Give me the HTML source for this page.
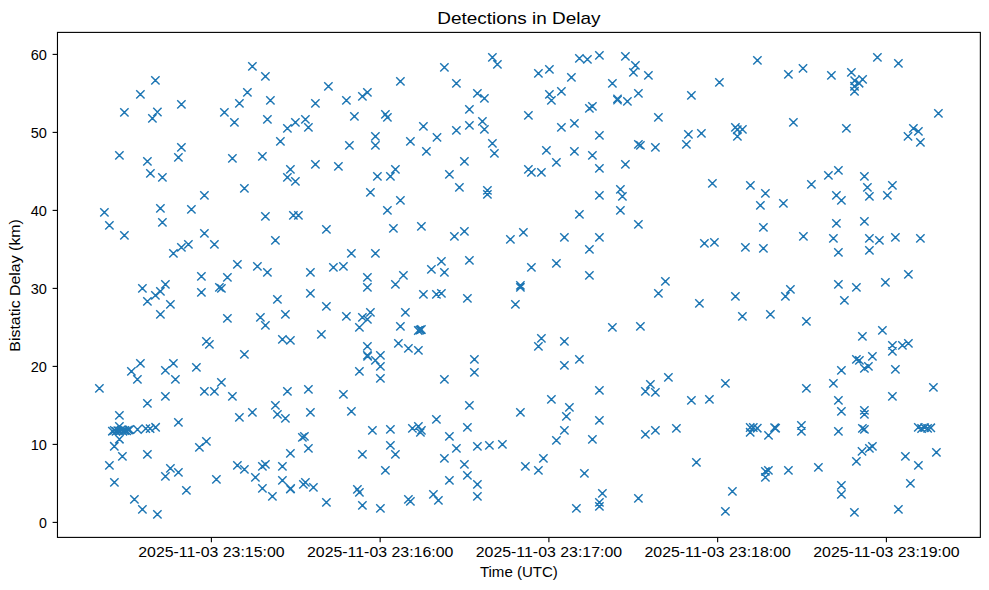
<!DOCTYPE html>
<html><head><meta charset="utf-8"><style>
html,body{margin:0;padding:0;background:#fff;width:989px;height:590px;overflow:hidden}
svg{display:block}
text{font-family:"Liberation Sans",sans-serif;font-size:14.1px;fill:#000}
</style></head><body>
<svg width="989" height="590" viewBox="0 0 989 590">
<rect width="989" height="590" fill="#fff"/>
<g clip-path="url(#c)"><path d="M151.23 76.23L159.57 84.57M151.23 84.57L159.57 76.23M136.23 90.23L144.57 98.57M136.23 98.57L144.57 90.23M120.23 108.23L128.57 116.57M120.23 116.57L128.57 108.23M153.23 107.83L161.57 116.17M153.23 116.17L161.57 107.83M148.23 114.23L156.57 122.57M148.23 122.57L156.57 114.23M177.23 100.23L185.57 108.57M177.23 108.57L185.57 100.23M220.23 108.23L228.57 116.57M220.23 116.57L228.57 108.23M230.23 118.23L238.57 126.57M230.23 126.57L238.57 118.23M235.23 99.23L243.57 107.57M235.23 107.57L243.57 99.23M243.23 88.23L251.57 96.57M243.23 96.57L251.57 88.23M248.23 62.23L256.57 70.57M248.23 70.57L256.57 62.23M261.23 72.23L269.57 80.57M261.23 80.57L269.57 72.23M266.23 96.23L274.57 104.57M266.23 104.57L274.57 96.23M263.23 115.23L271.57 123.57M263.23 123.57L271.57 115.23M276.23 137.23L284.57 145.57M276.23 145.57L284.57 137.23M283.23 124.23L291.57 132.57M283.23 132.57L291.57 124.23M291.23 118.23L299.57 126.57M291.23 126.57L299.57 118.23M301.23 115.23L309.57 123.57M301.23 123.57L309.57 115.23M304.23 123.23L312.57 131.57M304.23 131.57L312.57 123.23M311.23 99.23L319.57 107.57M311.23 107.57L319.57 99.23M324.23 82.23L332.57 90.57M324.23 90.57L332.57 82.23M342.23 96.23L350.57 104.57M342.23 104.57L350.57 96.23M350.23 112.23L358.57 120.57M350.23 120.57L358.57 112.23M345.23 141.23L353.57 149.57M345.23 149.57L353.57 141.23M358.23 92.23L366.57 100.57M358.23 100.57L366.57 92.23M363.23 88.23L371.57 96.57M363.23 96.57L371.57 88.23M371.23 132.23L379.57 140.57M371.23 140.57L379.57 132.23M371.23 141.23L379.57 149.57M371.23 149.57L379.57 141.23M381.23 110.23L389.57 118.57M381.23 118.57L389.57 110.23M383.23 113.23L391.57 121.57M383.23 121.57L391.57 113.23M396.23 77.23L404.57 85.57M396.23 85.57L404.57 77.23M406.23 137.23L414.57 145.57M406.23 145.57L414.57 137.23M419.23 122.23L427.57 130.57M419.23 130.57L427.57 122.23M432.83 133.23L441.17 141.57M432.83 141.57L441.17 133.23M440.23 63.23L448.57 71.57M440.23 71.57L448.57 63.23M452.23 79.23L460.57 87.57M452.23 87.57L460.57 79.23M488.23 53.23L496.57 61.57M488.23 61.57L496.57 53.23M493.23 60.23L501.57 68.57M493.23 68.57L501.57 60.23M473.23 89.23L481.57 97.57M473.23 97.57L481.57 89.23M480.23 94.23L488.57 102.57M480.23 102.57L488.57 94.23M465.23 105.23L473.57 113.57M465.23 113.57L473.57 105.23M478.23 117.23L486.57 125.57M478.23 125.57L486.57 117.23M465.23 121.23L473.57 129.57M465.23 129.57L473.57 121.23M480.23 125.23L488.57 133.57M480.23 133.57L488.57 125.23M452.23 126.23L460.57 134.57M452.23 134.57L460.57 126.23M488.23 139.23L496.57 147.57M488.23 147.57L496.57 139.23M524.23 111.23L532.57 119.57M524.23 119.57L532.57 111.23M534.23 69.23L542.57 77.57M534.23 77.57L542.57 69.23M545.23 65.23L553.57 73.57M545.23 73.57L553.57 65.23M545.23 90.23L553.57 98.57M545.23 98.57L553.57 90.23M547.23 96.23L555.57 104.57M547.23 104.57L555.57 96.23M557.23 87.23L565.57 95.57M557.23 95.57L565.57 87.23M567.23 73.23L575.57 81.57M567.23 81.57L575.57 73.23M575.23 54.23L583.57 62.57M575.23 62.57L583.57 54.23M583.23 55.23L591.57 63.57M583.23 63.57L591.57 55.23M595.23 51.23L603.57 59.57M595.23 59.57L603.57 51.23M608.23 79.23L616.57 87.57M608.23 87.57L616.57 79.23M613.33 94.73L621.67 103.07M613.33 103.07L621.67 94.73M613.33 95.83L621.67 104.17M613.33 104.17L621.67 95.83M585.23 104.23L593.57 112.57M585.23 112.57L593.57 104.23M588.23 102.23L596.57 110.57M588.23 110.57L596.57 102.23M570.23 119.23L578.57 127.57M570.23 127.57L578.57 119.23M557.23 123.23L565.57 131.57M557.23 131.57L565.57 123.23M595.23 131.23L603.57 139.57M595.23 139.57L603.57 131.23M621.23 52.23L629.57 60.57M621.23 60.57L629.57 52.23M631.23 61.23L639.57 69.57M631.23 69.57L639.57 61.23M629.23 68.23L637.57 76.57M629.23 76.57L637.57 68.23M644.23 71.23L652.57 79.57M644.23 79.57L652.57 71.23M623.23 97.23L631.57 105.57M623.23 105.57L631.57 97.23M634.23 89.23L642.57 97.57M634.23 97.57L642.57 89.23M654.23 113.23L662.57 121.57M654.23 121.57L662.57 113.23M687.23 91.23L695.57 99.57M687.23 99.57L695.57 91.23M715.23 78.23L723.57 86.57M715.23 86.57L723.57 78.23M753.23 56.23L761.57 64.57M753.23 64.57L761.57 56.23M784.23 70.23L792.57 78.57M784.23 78.57L792.57 70.23M798.83 64.23L807.17 72.57M798.83 72.57L807.17 64.23M789.23 118.23L797.57 126.57M789.23 126.57L797.57 118.23M731.23 123.23L739.57 131.57M731.23 131.57L739.57 123.23M738.23 125.23L746.57 133.57M738.23 133.57L746.57 125.23M733.23 132.23L741.57 140.57M733.23 140.57L741.57 132.23M733.13 125.53L741.47 133.87M733.13 133.87L741.47 125.53M697.23 129.23L705.57 137.57M697.23 137.57L705.57 129.23M684.23 130.23L692.57 138.57M684.23 138.57L692.57 130.23M827.23 71.23L835.57 79.57M827.23 79.57L835.57 71.23M847.23 68.23L855.57 76.57M847.23 76.57L855.57 68.23M873.23 53.23L881.57 61.57M873.23 61.57L881.57 53.23M894.23 59.23L902.57 67.57M894.23 67.57L902.57 59.23M858.43 75.23L866.77 83.57M858.43 83.57L866.77 75.23M850.53 76.53L858.87 84.87M850.53 84.87L858.87 76.53M854.93 79.03L863.27 87.37M854.93 87.37L863.27 79.03M850.33 82.13L858.67 90.47M850.33 90.47L858.67 82.13M850.33 87.13L858.67 95.47M850.33 95.47L858.67 87.13M842.23 124.23L850.57 132.57M842.23 132.57L850.57 124.23M934.23 109.23L942.57 117.57M934.23 117.57L942.57 109.23M909.23 124.23L917.57 132.57M909.23 132.57L917.57 124.23M914.23 127.23L922.57 135.57M914.23 135.57L922.57 127.23M903.83 132.23L912.17 140.57M903.83 140.57L912.17 132.23M916.23 138.23L924.57 146.57M916.23 146.57L924.57 138.23M177.23 143.23L185.57 151.57M177.23 151.57L185.57 143.23M115.23 151.23L123.57 159.57M115.23 159.57L123.57 151.23M143.23 157.23L151.57 165.57M143.23 165.57L151.57 157.23M174.23 153.23L182.57 161.57M174.23 161.57L182.57 153.23M146.23 169.23L154.57 177.57M146.23 177.57L154.57 169.23M158.23 173.23L166.57 181.57M158.23 181.57L166.57 173.23M228.23 154.23L236.57 162.57M228.23 162.57L236.57 154.23M240.23 184.23L248.57 192.57M240.23 192.57L248.57 184.23M200.23 191.23L208.57 199.57M200.23 199.57L208.57 191.23M100.23 208.23L108.57 216.57M100.23 216.57L108.57 208.23M105.23 221.23L113.57 229.57M105.23 229.57L113.57 221.23M120.23 231.23L128.57 239.57M120.23 239.57L128.57 231.23M156.23 204.23L164.57 212.57M156.23 212.57L164.57 204.23M158.23 218.23L166.57 226.57M158.23 226.57L166.57 218.23M187.23 205.23L195.57 213.57M187.23 213.57L195.57 205.23M200.23 229.23L208.57 237.57M200.23 237.57L208.57 229.23M210.23 240.23L218.57 248.57M210.23 248.57L218.57 240.23M184.23 240.23L192.57 248.57M184.23 248.57L192.57 240.23M177.23 243.23L185.57 251.57M177.23 251.57L185.57 243.23M258.23 152.23L266.57 160.57M258.23 160.57L266.57 152.23M286.23 165.23L294.57 173.57M286.23 173.57L294.57 165.23M283.23 173.23L291.57 181.57M283.23 181.57L291.57 173.23M291.23 177.23L299.57 185.57M291.23 185.57L299.57 177.23M311.23 160.23L319.57 168.57M311.23 168.57L319.57 160.23M334.23 162.23L342.57 170.57M334.23 170.57L342.57 162.23M373.23 172.23L381.57 180.57M373.23 180.57L381.57 172.23M386.23 172.23L394.57 180.57M386.23 180.57L394.57 172.23M391.23 165.23L399.57 173.57M391.23 173.57L399.57 165.23M366.23 188.23L374.57 196.57M366.23 196.57L374.57 188.23M396.23 196.23L404.57 204.57M396.23 204.57L404.57 196.23M383.23 206.23L391.57 214.57M383.23 214.57L391.57 206.23M261.23 212.23L269.57 220.57M261.23 220.57L269.57 212.23M289.23 211.23L297.57 219.57M289.23 219.57L297.57 211.23M294.23 211.23L302.57 219.57M294.23 219.57L302.57 211.23M322.23 225.23L330.57 233.57M322.23 233.57L330.57 225.23M271.23 236.23L279.57 244.57M271.23 244.57L279.57 236.23M389.23 224.23L397.57 232.57M389.23 232.57L397.57 224.23M417.23 222.23L425.57 230.57M417.23 230.57L425.57 222.23M422.23 147.23L430.57 155.57M422.23 155.57L430.57 147.23M490.23 149.23L498.57 157.57M490.23 157.57L498.57 149.23M460.23 157.23L468.57 165.57M460.23 165.57L468.57 157.23M445.23 170.23L453.57 178.57M445.23 178.57L453.57 170.23M455.23 183.23L463.57 191.57M455.23 191.57L463.57 183.23M483.23 186.23L491.57 194.57M483.23 194.57L491.57 186.23M483.23 190.23L491.57 198.57M483.23 198.57L491.57 190.23M542.23 146.23L550.57 154.57M542.23 154.57L550.57 146.23M570.23 147.23L578.57 155.57M570.23 155.57L578.57 147.23M588.23 151.23L596.57 159.57M588.23 159.57L596.57 151.23M552.23 158.23L560.57 166.57M552.23 166.57L560.57 158.23M524.23 165.23L532.57 173.57M524.23 173.57L532.57 165.23M527.23 168.23L535.57 176.57M527.23 176.57L535.57 168.23M537.23 168.23L545.57 176.57M537.23 176.57L545.57 168.23M595.23 164.23L603.57 172.57M595.23 172.57L603.57 164.23M595.23 191.23L603.57 199.57M595.23 199.57L603.57 191.23M575.23 210.23L583.57 218.57M575.23 218.57L583.57 210.23M450.23 232.23L458.57 240.57M450.23 240.57L458.57 232.23M460.23 227.23L468.57 235.57M460.23 235.57L468.57 227.23M506.23 235.23L514.57 243.57M506.23 243.57L514.57 235.23M519.23 228.23L527.57 236.57M519.23 236.57L527.57 228.23M560.23 233.23L568.57 241.57M560.23 241.57L568.57 233.23M595.23 233.23L603.57 241.57M595.23 241.57L603.57 233.23M634.23 140.23L642.57 148.57M634.23 148.57L642.57 140.23M636.23 141.23L644.57 149.57M636.23 149.57L644.57 141.23M651.23 143.23L659.57 151.57M651.23 151.57L659.57 143.23M682.23 140.23L690.57 148.57M682.23 148.57L690.57 140.23M621.23 160.23L629.57 168.57M621.23 168.57L629.57 160.23M616.23 185.23L624.57 193.57M616.23 193.57L624.57 185.23M618.23 192.23L626.57 200.57M618.23 200.57L626.57 192.23M616.23 206.23L624.57 214.57M616.23 214.57L624.57 206.23M634.23 220.23L642.57 228.57M634.23 228.57L642.57 220.23M708.23 179.23L716.57 187.57M708.23 187.57L716.57 179.23M746.23 181.23L754.57 189.57M746.23 189.57L754.57 181.23M761.23 189.23L769.57 197.57M761.23 197.57L769.57 189.23M756.23 201.23L764.57 209.57M756.23 209.57L764.57 201.23M779.23 199.23L787.57 207.57M779.23 207.57L787.57 199.23M759.23 223.23L767.57 231.57M759.23 231.57L767.57 223.23M799.23 232.23L807.57 240.57M799.23 240.57L807.57 232.23M700.23 239.23L708.57 247.57M700.23 247.57L708.57 239.23M710.23 238.23L718.57 246.57M710.23 246.57L718.57 238.23M741.23 243.23L749.57 251.57M741.23 251.57L749.57 243.23M759.23 244.23L767.57 252.57M759.23 252.57L767.57 244.23M834.23 166.23L842.57 174.57M834.23 174.57L842.57 166.23M824.23 171.23L832.57 179.57M824.23 179.57L832.57 171.23M807.23 180.23L815.57 188.57M807.23 188.57L815.57 180.23M860.23 172.23L868.57 180.57M860.23 180.57L868.57 172.23M863.23 183.23L871.57 191.57M863.23 191.57L871.57 183.23M865.23 192.23L873.57 200.57M865.23 200.57L873.57 192.23M888.23 181.23L896.57 189.57M888.23 189.57L896.57 181.23M883.23 191.23L891.57 199.57M883.23 199.57L891.57 191.23M832.23 191.23L840.57 199.57M832.23 199.57L840.57 191.23M837.23 196.23L845.57 204.57M837.23 204.57L845.57 196.23M832.23 219.23L840.57 227.57M832.23 227.57L840.57 219.23M860.23 217.23L868.57 225.57M860.23 225.57L868.57 217.23M829.23 234.23L837.57 242.57M829.23 242.57L837.57 234.23M865.23 234.23L873.57 242.57M865.23 242.57L873.57 234.23M875.23 236.23L883.57 244.57M875.23 244.57L883.57 236.23M891.23 233.23L899.57 241.57M891.23 241.57L899.57 233.23M916.23 234.23L924.57 242.57M916.23 242.57L924.57 234.23M169.23 249.23L177.57 257.57M169.23 257.57L177.57 249.23M233.23 260.23L241.57 268.57M233.23 268.57L241.57 260.23M197.23 272.23L205.57 280.57M197.23 280.57L205.57 272.23M223.23 273.23L231.57 281.57M223.23 281.57L231.57 273.23M215.23 283.23L223.57 291.57M215.23 291.57L223.57 283.23M217.23 284.23L225.57 292.57M217.23 292.57L225.57 284.23M197.23 288.23L205.57 296.57M197.23 296.57L205.57 288.23M138.23 284.23L146.57 292.57M138.23 292.57L146.57 284.23M161.23 280.23L169.57 288.57M161.23 288.57L169.57 280.23M156.23 287.23L164.57 295.57M156.23 295.57L164.57 287.23M151.23 291.23L159.57 299.57M151.23 299.57L159.57 291.23M143.23 297.23L151.57 305.57M143.23 305.57L151.57 297.23M166.23 300.23L174.57 308.57M166.23 308.57L174.57 300.23M156.23 310.23L164.57 318.57M156.23 318.57L164.57 310.23M223.23 314.23L231.57 322.57M223.23 322.57L231.57 314.23M202.23 337.23L210.57 345.57M202.23 345.57L210.57 337.23M205.23 340.23L213.57 348.57M205.23 348.57L213.57 340.23M347.23 249.23L355.57 257.57M347.23 257.57L355.57 249.23M371.23 249.23L379.57 257.57M371.23 257.57L379.57 249.23M253.23 262.23L261.57 270.57M253.23 270.57L261.57 262.23M263.23 268.23L271.57 276.57M263.23 276.57L271.57 268.23M306.23 268.23L314.57 276.57M306.23 276.57L314.57 268.23M329.23 263.23L337.57 271.57M329.23 271.57L337.57 263.23M339.23 262.23L347.57 270.57M339.23 270.57L347.57 262.23M363.23 273.23L371.57 281.57M363.23 281.57L371.57 273.23M363.23 283.23L371.57 291.57M363.23 291.57L371.57 283.23M391.23 280.23L399.57 288.57M391.23 288.57L399.57 280.23M399.23 271.23L407.57 279.57M399.23 279.57L407.57 271.23M427.23 265.23L435.57 273.57M427.23 273.57L435.57 265.23M419.23 290.23L427.57 298.57M419.23 298.57L427.57 290.23M306.23 289.23L314.57 297.57M306.23 297.57L314.57 289.23M273.23 295.23L281.57 303.57M273.23 303.57L281.57 295.23M322.23 302.23L330.57 310.57M322.23 310.57L330.57 302.23M281.23 310.23L289.57 318.57M281.23 318.57L289.57 310.23M256.23 313.23L264.57 321.57M256.23 321.57L264.57 313.23M261.23 321.23L269.57 329.57M261.23 329.57L269.57 321.23M342.23 312.23L350.57 320.57M342.23 320.57L350.57 312.23M358.23 313.23L366.57 321.57M358.23 321.57L366.57 313.23M366.23 308.23L374.57 316.57M366.23 316.57L374.57 308.23M363.23 315.23L371.57 323.57M363.23 323.57L371.57 315.23M355.23 323.23L363.57 331.57M355.23 331.57L363.57 323.23M401.23 308.23L409.57 316.57M401.23 316.57L409.57 308.23M396.23 322.23L404.57 330.57M396.23 330.57L404.57 322.23M414.13 326.33L422.47 334.67M414.13 334.67L422.47 326.33M415.83 325.83L424.17 334.17M415.83 334.17L424.17 325.83M417.23 325.33L425.57 333.67M417.23 333.67L425.57 325.33M317.23 330.23L325.57 338.57M317.23 338.57L325.57 330.23M278.23 335.23L286.57 343.57M278.23 343.57L286.57 335.23M286.23 336.23L294.57 344.57M286.23 344.57L294.57 336.23M240.23 350.23L248.57 358.57M240.23 358.57L248.57 350.23M363.23 342.23L371.57 350.57M363.23 350.57L371.57 342.23M394.23 339.23L402.57 347.57M394.23 347.57L402.57 339.23M404.23 344.23L412.57 352.57M404.23 352.57L412.57 344.23M414.23 346.23L422.57 354.57M414.23 354.57L422.57 346.23M585.23 245.23L593.57 253.57M585.23 253.57L593.57 245.23M437.23 257.23L445.57 265.57M437.23 265.57L445.57 257.23M440.23 268.23L448.57 276.57M440.23 276.57L448.57 268.23M465.23 256.23L473.57 264.57M465.23 264.57L473.57 256.23M527.23 263.23L535.57 271.57M527.23 271.57L535.57 263.23M552.23 259.23L560.57 267.57M552.23 267.57L560.57 259.23M585.23 271.23L593.57 279.57M585.23 279.57L593.57 271.23M516.23 281.23L524.57 289.57M516.23 289.57L524.57 281.23M516.23 283.23L524.57 291.57M516.23 291.57L524.57 283.23M432.23 290.23L440.57 298.57M432.23 298.57L440.57 290.23M437.23 289.23L445.57 297.57M437.23 297.57L445.57 289.23M463.23 294.23L471.57 302.57M463.23 302.57L471.57 294.23M511.23 300.23L519.57 308.57M511.23 308.57L519.57 300.23M608.23 323.23L616.57 331.57M608.23 331.57L616.57 323.23M537.23 334.23L545.57 342.57M537.23 342.57L545.57 334.23M534.23 342.23L542.57 350.57M534.23 350.57L542.57 342.23M560.23 337.23L568.57 345.57M560.23 345.57L568.57 337.23M661.23 277.23L669.57 285.57M661.23 285.57L669.57 277.23M654.23 289.23L662.57 297.57M654.23 297.57L662.57 289.23M695.23 299.23L703.57 307.57M695.23 307.57L703.57 299.23M731.23 292.23L739.57 300.57M731.23 300.57L739.57 292.23M738.23 312.23L746.57 320.57M738.23 320.57L746.57 312.23M766.23 310.23L774.57 318.57M766.23 318.57L774.57 310.23M786.23 285.23L794.57 293.57M786.23 293.57L794.57 285.23M781.23 292.23L789.57 300.57M781.23 300.57L789.57 292.23M636.23 322.23L644.57 330.57M636.23 330.57L644.57 322.23M834.23 248.23L842.57 256.57M834.23 256.57L842.57 248.23M865.23 246.23L873.57 254.57M865.23 254.57L873.57 246.23M904.23 270.23L912.57 278.57M904.23 278.57L912.57 270.23M881.23 278.23L889.57 286.57M881.23 286.57L889.57 278.23M834.23 280.23L842.57 288.57M834.23 288.57L842.57 280.23M852.23 283.23L860.57 291.57M852.23 291.57L860.57 283.23M840.23 296.23L848.57 304.57M840.23 304.57L848.57 296.23M802.23 317.23L810.57 325.57M802.23 325.57L810.57 317.23M878.23 326.23L886.57 334.57M878.23 334.57L886.57 326.23M858.23 332.23L866.57 340.57M858.23 340.57L866.57 332.23M888.23 341.23L896.57 349.57M888.23 349.57L896.57 341.23M898.23 341.23L906.57 349.57M898.23 349.57L906.57 341.23M904.23 339.23L912.57 347.57M904.23 347.57L912.57 339.23M888.23 347.23L896.57 355.57M888.23 355.57L896.57 347.23M136.23 359.23L144.57 367.57M136.23 367.57L144.57 359.23M127.23 367.23L135.57 375.57M127.23 375.57L135.57 367.23M133.23 375.23L141.57 383.57M133.23 383.57L141.57 375.23M169.23 359.23L177.57 367.57M169.23 367.57L177.57 359.23M161.23 366.23L169.57 374.57M161.23 374.57L169.57 366.23M171.23 375.23L179.57 383.57M171.23 383.57L179.57 375.23M192.23 363.23L200.57 371.57M192.23 371.57L200.57 363.23M217.23 378.23L225.57 386.57M217.23 386.57L225.57 378.23M200.23 387.23L208.57 395.57M200.23 395.57L208.57 387.23M210.23 387.23L218.57 395.57M210.23 395.57L218.57 387.23M228.23 392.23L236.57 400.57M228.23 400.57L236.57 392.23M95.23 384.23L103.57 392.57M95.23 392.57L103.57 384.23M161.23 392.23L169.57 400.57M161.23 400.57L169.57 392.23M143.23 399.23L151.57 407.57M143.23 407.57L151.57 399.23M115.23 411.23L123.57 419.57M115.23 419.57L123.57 411.23M174.23 418.23L182.57 426.57M174.23 426.57L182.57 418.23M235.23 413.23L243.57 421.57M235.23 421.57L243.57 413.23M115.23 422.23L123.57 430.57M115.23 430.57L123.57 422.23M115.23 435.03L123.57 443.37M115.23 443.37L123.57 435.03M110.13 442.13L118.47 450.47M110.13 450.47L118.47 442.13M118.23 452.23L126.57 460.57M118.23 460.57L126.57 452.23M143.23 450.23L151.57 458.57M143.23 458.57L151.57 450.23M202.23 437.23L210.57 445.57M202.23 445.57L210.57 437.23M195.23 443.23L203.57 451.57M195.23 451.57L203.57 443.23M108.23 427.03L116.57 435.37M108.23 435.37L116.57 427.03M110.13 426.23L118.47 434.57M110.13 434.57L118.47 426.23M111.83 427.23L120.17 435.57M111.83 435.57L120.17 427.23M113.63 426.43L121.97 434.77M113.63 434.77L121.97 426.43M115.33 426.83L123.67 435.17M115.33 435.17L123.67 426.83M117.03 426.03L125.37 434.37M117.03 434.37L125.37 426.03M118.83 427.03L127.17 435.37M118.83 435.37L127.17 427.03M120.63 426.33L128.97 434.67M120.63 434.67L128.97 426.33M122.43 426.73L130.77 435.07M122.43 435.07L130.77 426.73M124.23 425.83L132.57 434.17M124.23 434.17L132.57 425.83M125.33 425.43L133.67 433.77M125.33 433.77L133.67 425.43M133.33 425.33L141.67 433.67M133.33 433.67L141.67 425.33M141.63 424.43L149.97 432.77M141.63 432.77L149.97 424.43M145.93 424.43L154.27 432.77M145.93 432.77L154.27 424.43M151.43 423.13L159.77 431.47M151.43 431.47L159.77 423.13M363.23 351.23L371.57 359.57M363.23 359.57L371.57 351.23M363.43 352.13L371.77 360.47M363.43 360.47L371.77 352.13M371.23 356.23L379.57 364.57M371.23 364.57L379.57 356.23M376.23 351.23L384.57 359.57M376.23 359.57L384.57 351.23M376.23 362.23L384.57 370.57M376.23 370.57L384.57 362.23M355.23 367.23L363.57 375.57M355.23 375.57L363.57 367.23M376.23 374.23L384.57 382.57M376.23 382.57L384.57 374.23M283.23 387.23L291.57 395.57M283.23 395.57L291.57 387.23M304.23 385.23L312.57 393.57M304.23 393.57L312.57 385.23M339.23 390.23L347.57 398.57M339.23 398.57L347.57 390.23M271.23 401.23L279.57 409.57M271.23 409.57L279.57 401.23M273.23 410.23L281.57 418.57M273.23 418.57L281.57 410.23M281.23 414.23L289.57 422.57M281.23 422.57L289.57 414.23M248.23 408.23L256.57 416.57M248.23 416.57L256.57 408.23M306.23 408.23L314.57 416.57M306.23 416.57L314.57 408.23M347.23 407.23L355.57 415.57M347.23 415.57L355.57 407.23M300.23 432.23L308.57 440.57M300.23 440.57L308.57 432.23M298.23 433.23L306.57 441.57M298.23 441.57L306.57 433.23M304.23 444.23L312.57 452.57M304.23 452.57L312.57 444.23M286.23 449.23L294.57 457.57M286.23 457.57L294.57 449.23M368.23 426.23L376.57 434.57M368.23 434.57L376.57 426.23M386.23 425.23L394.57 433.57M386.23 433.57L394.57 425.23M386.23 441.23L394.57 449.57M386.23 449.57L394.57 441.23M391.23 450.23L399.57 458.57M391.23 458.57L399.57 450.23M358.23 450.23L366.57 458.57M358.23 458.57L366.57 450.23M408.23 424.23L416.57 432.57M408.23 432.57L416.57 424.23M414.23 422.23L422.57 430.57M414.23 430.57L422.57 422.23M417.23 426.23L425.57 434.57M417.23 434.57L425.57 426.23M416.23 428.23L424.57 436.57M416.23 436.57L424.57 428.23M470.23 355.23L478.57 363.57M470.23 363.57L478.57 355.23M470.23 368.23L478.57 376.57M470.23 376.57L478.57 368.23M440.23 375.23L448.57 383.57M440.23 383.57L448.57 375.23M560.23 361.23L568.57 369.57M560.23 369.57L568.57 361.23M575.23 355.23L583.57 363.57M575.23 363.57L583.57 355.23M595.23 386.23L603.57 394.57M595.23 394.57L603.57 386.23M547.23 395.23L555.57 403.57M547.23 403.57L555.57 395.23M565.23 403.23L573.57 411.57M565.23 411.57L573.57 403.23M562.23 412.23L570.57 420.57M562.23 420.57L570.57 412.23M595.23 416.23L603.57 424.57M595.23 424.57L603.57 416.23M560.23 426.23L568.57 434.57M560.23 434.57L568.57 426.23M552.23 436.23L560.57 444.57M552.23 444.57L560.57 436.23M588.23 435.23L596.57 443.57M588.23 443.57L596.57 435.23M465.23 401.23L473.57 409.57M465.23 409.57L473.57 401.23M516.23 408.23L524.57 416.57M516.23 416.57L524.57 408.23M432.23 415.23L440.57 423.57M432.23 423.57L440.57 415.23M463.23 423.23L471.57 431.57M463.23 431.57L471.57 423.23M445.23 432.23L453.57 440.57M445.23 440.57L453.57 432.23M452.23 444.23L460.57 452.57M452.23 452.57L460.57 444.23M473.23 442.23L481.57 450.57M473.23 450.57L481.57 442.23M485.23 441.23L493.57 449.57M485.23 449.57L493.57 441.23M498.23 440.23L506.57 448.57M498.23 448.57L506.57 440.23M440.23 454.23L448.57 462.57M440.23 462.57L448.57 454.23M539.23 454.23L547.57 462.57M539.23 462.57L547.57 454.23M664.23 373.23L672.57 381.57M664.23 381.57L672.57 373.23M646.23 380.23L654.57 388.57M646.23 388.57L654.57 380.23M641.23 387.23L649.57 395.57M641.23 395.57L649.57 387.23M651.23 388.23L659.57 396.57M651.23 396.57L659.57 388.23M687.23 396.23L695.57 404.57M687.23 404.57L695.57 396.23M705.23 395.23L713.57 403.57M705.23 403.57L713.57 395.23M721.23 379.23L729.57 387.57M721.23 387.57L729.57 379.23M641.23 430.23L649.57 438.57M641.23 438.57L649.57 430.23M651.23 426.23L659.57 434.57M651.23 434.57L659.57 426.23M672.23 424.23L680.57 432.57M672.23 432.57L680.57 424.23M746.03 423.33L754.37 431.67M746.03 431.67L754.37 423.33M749.13 423.33L757.47 431.67M749.13 431.67L757.47 423.33M753.13 424.03L761.47 432.37M753.13 432.37L761.47 424.03M746.03 428.13L754.37 436.47M746.03 436.47L754.37 428.13M770.43 423.53L778.77 431.87M770.43 431.87L778.77 423.53M771.43 424.03L779.77 432.37M771.43 432.37L779.77 424.03M764.33 431.23L772.67 439.57M764.33 439.57L772.67 431.23M797.23 421.23L805.57 429.57M797.23 429.57L805.57 421.23M797.23 427.23L805.57 435.57M797.23 435.57L805.57 427.23M852.23 355.23L860.57 363.57M852.23 363.57L860.57 355.23M855.23 356.23L863.57 364.57M855.23 364.57L863.57 356.23M868.23 352.23L876.57 360.57M868.23 360.57L876.57 352.23M860.23 364.23L868.57 372.57M860.23 372.57L868.57 364.23M864.23 362.23L872.57 370.57M864.23 370.57L872.57 362.23M837.23 366.23L845.57 374.57M837.23 374.57L845.57 366.23M891.23 365.23L899.57 373.57M891.23 373.57L899.57 365.23M829.23 379.23L837.57 387.57M829.23 387.57L837.57 379.23M802.23 384.23L810.57 392.57M802.23 392.57L810.57 384.23M929.23 383.23L937.57 391.57M929.23 391.57L937.57 383.23M888.23 392.23L896.57 400.57M888.23 400.57L896.57 392.23M834.23 396.23L842.57 404.57M834.23 404.57L842.57 396.23M837.23 407.23L845.57 415.57M837.23 415.57L845.57 407.23M860.23 406.23L868.57 414.57M860.23 414.57L868.57 406.23M860.23 410.23L868.57 418.57M860.23 418.57L868.57 410.23M834.23 427.23L842.57 435.57M834.23 435.57L842.57 427.23M858.23 424.23L866.57 432.57M858.23 432.57L866.57 424.23M860.23 425.23L868.57 433.57M860.23 433.57L868.57 425.23M914.13 423.23L922.47 431.57M914.13 431.57L922.47 423.23M917.43 424.33L925.77 432.67M917.43 432.67L925.77 424.33M920.43 423.43L928.77 431.77M920.43 431.77L928.77 423.43M923.43 424.23L931.77 432.57M923.43 432.57L931.77 424.23M926.63 423.63L934.97 431.97M926.63 431.97L934.97 423.63M857.83 447.23L866.17 455.57M857.83 455.57L866.17 447.23M865.23 444.23L873.57 452.57M865.23 452.57L873.57 444.23M868.23 442.23L876.57 450.57M868.23 450.57L876.57 442.23M901.23 452.23L909.57 460.57M901.23 460.57L909.57 452.23M932.23 448.23L940.57 456.57M932.23 456.57L940.57 448.23M105.23 461.23L113.57 469.57M105.23 469.57L113.57 461.23M110.23 478.23L118.57 486.57M110.23 486.57L118.57 478.23M130.23 495.23L138.57 503.57M130.23 503.57L138.57 495.23M138.23 505.23L146.57 513.57M138.23 513.57L146.57 505.23M153.23 510.23L161.57 518.57M153.23 518.57L161.57 510.23M166.23 464.23L174.57 472.57M166.23 472.57L174.57 464.23M161.23 472.23L169.57 480.57M161.23 480.57L169.57 472.23M174.23 468.23L182.57 476.57M174.23 476.57L182.57 468.23M182.23 486.23L190.57 494.57M182.23 494.57L190.57 486.23M212.23 475.23L220.57 483.57M212.23 483.57L220.57 475.23M233.23 461.23L241.57 469.57M233.23 469.57L241.57 461.23M240.23 465.23L248.57 473.57M240.23 473.57L248.57 465.23M258.23 462.23L266.57 470.57M258.23 470.57L266.57 462.23M261.23 460.23L269.57 468.57M261.23 468.57L269.57 460.23M278.23 462.23L286.57 470.57M278.23 470.57L286.57 462.23M251.23 473.23L259.57 481.57M251.23 481.57L259.57 473.23M258.23 484.23L266.57 492.57M258.23 492.57L266.57 484.23M268.23 492.23L276.57 500.57M268.23 500.57L276.57 492.23M278.23 476.23L286.57 484.57M278.23 484.57L286.57 476.23M286.23 484.93L294.57 493.27M286.23 493.27L294.57 484.93M286.43 484.33L294.77 492.67M286.43 492.67L294.77 484.33M299.23 480.23L307.57 488.57M299.23 488.57L307.57 480.23M301.23 478.23L309.57 486.57M301.23 486.57L309.57 478.23M309.23 483.23L317.57 491.57M309.23 491.57L317.57 483.23M322.23 498.23L330.57 506.57M322.23 506.57L330.57 498.23M353.23 485.23L361.57 493.57M353.23 493.57L361.57 485.23M355.23 488.23L363.57 496.57M355.23 496.57L363.57 488.23M358.23 501.23L366.57 509.57M358.23 509.57L366.57 501.23M381.23 466.23L389.57 474.57M381.23 474.57L389.57 466.23M376.23 504.23L384.57 512.57M376.23 512.57L384.57 504.23M404.23 495.23L412.57 503.57M404.23 503.57L412.57 495.23M406.23 497.23L414.57 505.57M406.23 505.57L414.57 497.23M429.23 490.23L437.57 498.57M429.23 498.57L437.57 490.23M460.23 460.23L468.57 468.57M460.23 468.57L468.57 460.23M463.23 471.23L471.57 479.57M463.23 479.57L471.57 471.23M445.23 476.23L453.57 484.57M445.23 484.57L453.57 476.23M473.23 480.23L481.57 488.57M473.23 488.57L481.57 480.23M473.23 492.23L481.57 500.57M473.23 500.57L481.57 492.23M434.23 496.23L442.57 504.57M434.23 504.57L442.57 496.23M521.23 462.23L529.57 470.57M521.23 470.57L529.57 462.23M534.23 466.23L542.57 474.57M534.23 474.57L542.57 466.23M580.23 469.23L588.57 477.57M580.23 477.57L588.57 469.23M598.23 489.23L606.57 497.57M598.23 497.57L606.57 489.23M595.23 498.23L603.57 506.57M595.23 506.57L603.57 498.23M595.23 502.23L603.57 510.57M595.23 510.57L603.57 502.23M572.23 504.23L580.57 512.57M572.23 512.57L580.57 504.23M634.23 494.23L642.57 502.57M634.23 502.57L642.57 494.23M692.23 458.23L700.57 466.57M692.23 466.57L700.57 458.23M728.23 487.23L736.57 495.57M728.23 495.57L736.57 487.23M721.23 507.23L729.57 515.57M721.23 515.57L729.57 507.23M761.23 467.23L769.57 475.57M761.23 475.57L769.57 467.23M764.23 466.23L772.57 474.57M764.23 474.57L772.57 466.23M761.23 473.23L769.57 481.57M761.23 481.57L769.57 473.23M784.23 466.23L792.57 474.57M784.23 474.57L792.57 466.23M852.23 457.23L860.57 465.57M852.23 465.57L860.57 457.23M814.23 463.23L822.57 471.57M814.23 471.57L822.57 463.23M837.23 481.23L845.57 489.57M837.23 489.57L845.57 481.23M837.23 490.23L845.57 498.57M837.23 498.57L845.57 490.23M850.23 508.23L858.57 516.57M850.23 516.57L858.57 508.23M914.23 461.23L922.57 469.57M914.23 469.57L922.57 461.23M906.23 479.23L914.57 487.57M906.23 487.57L914.57 479.23M894.23 505.23L902.57 513.57M894.23 513.57L902.57 505.23" stroke="#1f77b4" stroke-width="1.45" fill="none"/><path d="M154.30 79.30h2.2v2.2h-2.2zM139.30 93.30h2.2v2.2h-2.2zM123.30 111.30h2.2v2.2h-2.2zM156.30 110.90h2.2v2.2h-2.2zM151.30 117.30h2.2v2.2h-2.2zM180.30 103.30h2.2v2.2h-2.2zM223.30 111.30h2.2v2.2h-2.2zM233.30 121.30h2.2v2.2h-2.2zM238.30 102.30h2.2v2.2h-2.2zM246.30 91.30h2.2v2.2h-2.2zM251.30 65.30h2.2v2.2h-2.2zM264.30 75.30h2.2v2.2h-2.2zM269.30 99.30h2.2v2.2h-2.2zM266.30 118.30h2.2v2.2h-2.2zM279.30 140.30h2.2v2.2h-2.2zM286.30 127.30h2.2v2.2h-2.2zM294.30 121.30h2.2v2.2h-2.2zM304.30 118.30h2.2v2.2h-2.2zM307.30 126.30h2.2v2.2h-2.2zM314.30 102.30h2.2v2.2h-2.2zM327.30 85.30h2.2v2.2h-2.2zM345.30 99.30h2.2v2.2h-2.2zM353.30 115.30h2.2v2.2h-2.2zM348.30 144.30h2.2v2.2h-2.2zM361.30 95.30h2.2v2.2h-2.2zM366.30 91.30h2.2v2.2h-2.2zM374.30 135.30h2.2v2.2h-2.2zM374.30 144.30h2.2v2.2h-2.2zM384.30 113.30h2.2v2.2h-2.2zM386.30 116.30h2.2v2.2h-2.2zM399.30 80.30h2.2v2.2h-2.2zM409.30 140.30h2.2v2.2h-2.2zM422.30 125.30h2.2v2.2h-2.2zM435.90 136.30h2.2v2.2h-2.2zM443.30 66.30h2.2v2.2h-2.2zM455.30 82.30h2.2v2.2h-2.2zM491.30 56.30h2.2v2.2h-2.2zM496.30 63.30h2.2v2.2h-2.2zM476.30 92.30h2.2v2.2h-2.2zM483.30 97.30h2.2v2.2h-2.2zM468.30 108.30h2.2v2.2h-2.2zM481.30 120.30h2.2v2.2h-2.2zM468.30 124.30h2.2v2.2h-2.2zM483.30 128.30h2.2v2.2h-2.2zM455.30 129.30h2.2v2.2h-2.2zM491.30 142.30h2.2v2.2h-2.2zM527.30 114.30h2.2v2.2h-2.2zM537.30 72.30h2.2v2.2h-2.2zM548.30 68.30h2.2v2.2h-2.2zM548.30 93.30h2.2v2.2h-2.2zM550.30 99.30h2.2v2.2h-2.2zM560.30 90.30h2.2v2.2h-2.2zM570.30 76.30h2.2v2.2h-2.2zM578.30 57.30h2.2v2.2h-2.2zM586.30 58.30h2.2v2.2h-2.2zM598.30 54.30h2.2v2.2h-2.2zM611.30 82.30h2.2v2.2h-2.2zM616.40 97.80h2.2v2.2h-2.2zM616.40 98.90h2.2v2.2h-2.2zM588.30 107.30h2.2v2.2h-2.2zM591.30 105.30h2.2v2.2h-2.2zM573.30 122.30h2.2v2.2h-2.2zM560.30 126.30h2.2v2.2h-2.2zM598.30 134.30h2.2v2.2h-2.2zM624.30 55.30h2.2v2.2h-2.2zM634.30 64.30h2.2v2.2h-2.2zM632.30 71.30h2.2v2.2h-2.2zM647.30 74.30h2.2v2.2h-2.2zM626.30 100.30h2.2v2.2h-2.2zM637.30 92.30h2.2v2.2h-2.2zM657.30 116.30h2.2v2.2h-2.2zM690.30 94.30h2.2v2.2h-2.2zM718.30 81.30h2.2v2.2h-2.2zM756.30 59.30h2.2v2.2h-2.2zM787.30 73.30h2.2v2.2h-2.2zM801.90 67.30h2.2v2.2h-2.2zM792.30 121.30h2.2v2.2h-2.2zM734.30 126.30h2.2v2.2h-2.2zM741.30 128.30h2.2v2.2h-2.2zM736.30 135.30h2.2v2.2h-2.2zM736.20 128.60h2.2v2.2h-2.2zM700.30 132.30h2.2v2.2h-2.2zM687.30 133.30h2.2v2.2h-2.2zM830.30 74.30h2.2v2.2h-2.2zM850.30 71.30h2.2v2.2h-2.2zM876.30 56.30h2.2v2.2h-2.2zM897.30 62.30h2.2v2.2h-2.2zM861.50 78.30h2.2v2.2h-2.2zM853.60 79.60h2.2v2.2h-2.2zM858.00 82.10h2.2v2.2h-2.2zM853.40 85.20h2.2v2.2h-2.2zM853.40 90.20h2.2v2.2h-2.2zM845.30 127.30h2.2v2.2h-2.2zM937.30 112.30h2.2v2.2h-2.2zM912.30 127.30h2.2v2.2h-2.2zM917.30 130.30h2.2v2.2h-2.2zM906.90 135.30h2.2v2.2h-2.2zM919.30 141.30h2.2v2.2h-2.2zM180.30 146.30h2.2v2.2h-2.2zM118.30 154.30h2.2v2.2h-2.2zM146.30 160.30h2.2v2.2h-2.2zM177.30 156.30h2.2v2.2h-2.2zM149.30 172.30h2.2v2.2h-2.2zM161.30 176.30h2.2v2.2h-2.2zM231.30 157.30h2.2v2.2h-2.2zM243.30 187.30h2.2v2.2h-2.2zM203.30 194.30h2.2v2.2h-2.2zM103.30 211.30h2.2v2.2h-2.2zM108.30 224.30h2.2v2.2h-2.2zM123.30 234.30h2.2v2.2h-2.2zM159.30 207.30h2.2v2.2h-2.2zM161.30 221.30h2.2v2.2h-2.2zM190.30 208.30h2.2v2.2h-2.2zM203.30 232.30h2.2v2.2h-2.2zM213.30 243.30h2.2v2.2h-2.2zM187.30 243.30h2.2v2.2h-2.2zM180.30 246.30h2.2v2.2h-2.2zM261.30 155.30h2.2v2.2h-2.2zM289.30 168.30h2.2v2.2h-2.2zM286.30 176.30h2.2v2.2h-2.2zM294.30 180.30h2.2v2.2h-2.2zM314.30 163.30h2.2v2.2h-2.2zM337.30 165.30h2.2v2.2h-2.2zM376.30 175.30h2.2v2.2h-2.2zM389.30 175.30h2.2v2.2h-2.2zM394.30 168.30h2.2v2.2h-2.2zM369.30 191.30h2.2v2.2h-2.2zM399.30 199.30h2.2v2.2h-2.2zM386.30 209.30h2.2v2.2h-2.2zM264.30 215.30h2.2v2.2h-2.2zM292.30 214.30h2.2v2.2h-2.2zM297.30 214.30h2.2v2.2h-2.2zM325.30 228.30h2.2v2.2h-2.2zM274.30 239.30h2.2v2.2h-2.2zM392.30 227.30h2.2v2.2h-2.2zM420.30 225.30h2.2v2.2h-2.2zM425.30 150.30h2.2v2.2h-2.2zM493.30 152.30h2.2v2.2h-2.2zM463.30 160.30h2.2v2.2h-2.2zM448.30 173.30h2.2v2.2h-2.2zM458.30 186.30h2.2v2.2h-2.2zM486.30 189.30h2.2v2.2h-2.2zM486.30 193.30h2.2v2.2h-2.2zM545.30 149.30h2.2v2.2h-2.2zM573.30 150.30h2.2v2.2h-2.2zM591.30 154.30h2.2v2.2h-2.2zM555.30 161.30h2.2v2.2h-2.2zM527.30 168.30h2.2v2.2h-2.2zM530.30 171.30h2.2v2.2h-2.2zM540.30 171.30h2.2v2.2h-2.2zM598.30 167.30h2.2v2.2h-2.2zM598.30 194.30h2.2v2.2h-2.2zM578.30 213.30h2.2v2.2h-2.2zM453.30 235.30h2.2v2.2h-2.2zM463.30 230.30h2.2v2.2h-2.2zM509.30 238.30h2.2v2.2h-2.2zM522.30 231.30h2.2v2.2h-2.2zM563.30 236.30h2.2v2.2h-2.2zM598.30 236.30h2.2v2.2h-2.2zM637.30 143.30h2.2v2.2h-2.2zM639.30 144.30h2.2v2.2h-2.2zM654.30 146.30h2.2v2.2h-2.2zM685.30 143.30h2.2v2.2h-2.2zM624.30 163.30h2.2v2.2h-2.2zM619.30 188.30h2.2v2.2h-2.2zM621.30 195.30h2.2v2.2h-2.2zM619.30 209.30h2.2v2.2h-2.2zM637.30 223.30h2.2v2.2h-2.2zM711.30 182.30h2.2v2.2h-2.2zM749.30 184.30h2.2v2.2h-2.2zM764.30 192.30h2.2v2.2h-2.2zM759.30 204.30h2.2v2.2h-2.2zM782.30 202.30h2.2v2.2h-2.2zM762.30 226.30h2.2v2.2h-2.2zM802.30 235.30h2.2v2.2h-2.2zM703.30 242.30h2.2v2.2h-2.2zM713.30 241.30h2.2v2.2h-2.2zM744.30 246.30h2.2v2.2h-2.2zM762.30 247.30h2.2v2.2h-2.2zM837.30 169.30h2.2v2.2h-2.2zM827.30 174.30h2.2v2.2h-2.2zM810.30 183.30h2.2v2.2h-2.2zM863.30 175.30h2.2v2.2h-2.2zM866.30 186.30h2.2v2.2h-2.2zM868.30 195.30h2.2v2.2h-2.2zM891.30 184.30h2.2v2.2h-2.2zM886.30 194.30h2.2v2.2h-2.2zM835.30 194.30h2.2v2.2h-2.2zM840.30 199.30h2.2v2.2h-2.2zM835.30 222.30h2.2v2.2h-2.2zM863.30 220.30h2.2v2.2h-2.2zM832.30 237.30h2.2v2.2h-2.2zM868.30 237.30h2.2v2.2h-2.2zM878.30 239.30h2.2v2.2h-2.2zM894.30 236.30h2.2v2.2h-2.2zM919.30 237.30h2.2v2.2h-2.2zM172.30 252.30h2.2v2.2h-2.2zM236.30 263.30h2.2v2.2h-2.2zM200.30 275.30h2.2v2.2h-2.2zM226.30 276.30h2.2v2.2h-2.2zM218.30 286.30h2.2v2.2h-2.2zM220.30 287.30h2.2v2.2h-2.2zM200.30 291.30h2.2v2.2h-2.2zM141.30 287.30h2.2v2.2h-2.2zM164.30 283.30h2.2v2.2h-2.2zM159.30 290.30h2.2v2.2h-2.2zM154.30 294.30h2.2v2.2h-2.2zM146.30 300.30h2.2v2.2h-2.2zM169.30 303.30h2.2v2.2h-2.2zM159.30 313.30h2.2v2.2h-2.2zM226.30 317.30h2.2v2.2h-2.2zM205.30 340.30h2.2v2.2h-2.2zM208.30 343.30h2.2v2.2h-2.2zM350.30 252.30h2.2v2.2h-2.2zM374.30 252.30h2.2v2.2h-2.2zM256.30 265.30h2.2v2.2h-2.2zM266.30 271.30h2.2v2.2h-2.2zM309.30 271.30h2.2v2.2h-2.2zM332.30 266.30h2.2v2.2h-2.2zM342.30 265.30h2.2v2.2h-2.2zM366.30 276.30h2.2v2.2h-2.2zM366.30 286.30h2.2v2.2h-2.2zM394.30 283.30h2.2v2.2h-2.2zM402.30 274.30h2.2v2.2h-2.2zM430.30 268.30h2.2v2.2h-2.2zM422.30 293.30h2.2v2.2h-2.2zM309.30 292.30h2.2v2.2h-2.2zM276.30 298.30h2.2v2.2h-2.2zM325.30 305.30h2.2v2.2h-2.2zM284.30 313.30h2.2v2.2h-2.2zM259.30 316.30h2.2v2.2h-2.2zM264.30 324.30h2.2v2.2h-2.2zM345.30 315.30h2.2v2.2h-2.2zM361.30 316.30h2.2v2.2h-2.2zM369.30 311.30h2.2v2.2h-2.2zM366.30 318.30h2.2v2.2h-2.2zM358.30 326.30h2.2v2.2h-2.2zM404.30 311.30h2.2v2.2h-2.2zM399.30 325.30h2.2v2.2h-2.2zM417.20 329.40h2.2v2.2h-2.2zM418.90 328.90h2.2v2.2h-2.2zM420.30 328.40h2.2v2.2h-2.2zM320.30 333.30h2.2v2.2h-2.2zM281.30 338.30h2.2v2.2h-2.2zM289.30 339.30h2.2v2.2h-2.2zM243.30 353.30h2.2v2.2h-2.2zM366.30 345.30h2.2v2.2h-2.2zM397.30 342.30h2.2v2.2h-2.2zM407.30 347.30h2.2v2.2h-2.2zM417.30 349.30h2.2v2.2h-2.2zM588.30 248.30h2.2v2.2h-2.2zM440.30 260.30h2.2v2.2h-2.2zM443.30 271.30h2.2v2.2h-2.2zM468.30 259.30h2.2v2.2h-2.2zM530.30 266.30h2.2v2.2h-2.2zM555.30 262.30h2.2v2.2h-2.2zM588.30 274.30h2.2v2.2h-2.2zM519.30 284.30h2.2v2.2h-2.2zM519.30 286.30h2.2v2.2h-2.2zM435.30 293.30h2.2v2.2h-2.2zM440.30 292.30h2.2v2.2h-2.2zM466.30 297.30h2.2v2.2h-2.2zM514.30 303.30h2.2v2.2h-2.2zM611.30 326.30h2.2v2.2h-2.2zM540.30 337.30h2.2v2.2h-2.2zM537.30 345.30h2.2v2.2h-2.2zM563.30 340.30h2.2v2.2h-2.2zM664.30 280.30h2.2v2.2h-2.2zM657.30 292.30h2.2v2.2h-2.2zM698.30 302.30h2.2v2.2h-2.2zM734.30 295.30h2.2v2.2h-2.2zM741.30 315.30h2.2v2.2h-2.2zM769.30 313.30h2.2v2.2h-2.2zM789.30 288.30h2.2v2.2h-2.2zM784.30 295.30h2.2v2.2h-2.2zM639.30 325.30h2.2v2.2h-2.2zM837.30 251.30h2.2v2.2h-2.2zM868.30 249.30h2.2v2.2h-2.2zM907.30 273.30h2.2v2.2h-2.2zM884.30 281.30h2.2v2.2h-2.2zM837.30 283.30h2.2v2.2h-2.2zM855.30 286.30h2.2v2.2h-2.2zM843.30 299.30h2.2v2.2h-2.2zM805.30 320.30h2.2v2.2h-2.2zM881.30 329.30h2.2v2.2h-2.2zM861.30 335.30h2.2v2.2h-2.2zM891.30 344.30h2.2v2.2h-2.2zM901.30 344.30h2.2v2.2h-2.2zM907.30 342.30h2.2v2.2h-2.2zM891.30 350.30h2.2v2.2h-2.2zM139.30 362.30h2.2v2.2h-2.2zM130.30 370.30h2.2v2.2h-2.2zM136.30 378.30h2.2v2.2h-2.2zM172.30 362.30h2.2v2.2h-2.2zM164.30 369.30h2.2v2.2h-2.2zM174.30 378.30h2.2v2.2h-2.2zM195.30 366.30h2.2v2.2h-2.2zM220.30 381.30h2.2v2.2h-2.2zM203.30 390.30h2.2v2.2h-2.2zM213.30 390.30h2.2v2.2h-2.2zM231.30 395.30h2.2v2.2h-2.2zM98.30 387.30h2.2v2.2h-2.2zM164.30 395.30h2.2v2.2h-2.2zM146.30 402.30h2.2v2.2h-2.2zM118.30 414.30h2.2v2.2h-2.2zM177.30 421.30h2.2v2.2h-2.2zM238.30 416.30h2.2v2.2h-2.2zM118.30 425.30h2.2v2.2h-2.2zM118.30 438.10h2.2v2.2h-2.2zM113.20 445.20h2.2v2.2h-2.2zM121.30 455.30h2.2v2.2h-2.2zM146.30 453.30h2.2v2.2h-2.2zM205.30 440.30h2.2v2.2h-2.2zM198.30 446.30h2.2v2.2h-2.2zM111.30 430.10h2.2v2.2h-2.2zM113.20 429.30h2.2v2.2h-2.2zM114.90 430.30h2.2v2.2h-2.2zM116.70 429.50h2.2v2.2h-2.2zM118.40 429.90h2.2v2.2h-2.2zM120.10 429.10h2.2v2.2h-2.2zM121.90 430.10h2.2v2.2h-2.2zM123.70 429.40h2.2v2.2h-2.2zM125.50 429.80h2.2v2.2h-2.2zM127.30 428.90h2.2v2.2h-2.2zM128.40 428.50h2.2v2.2h-2.2zM136.40 428.40h2.2v2.2h-2.2zM144.70 427.50h2.2v2.2h-2.2zM149.00 427.50h2.2v2.2h-2.2zM154.50 426.20h2.2v2.2h-2.2zM366.30 354.30h2.2v2.2h-2.2zM366.50 355.20h2.2v2.2h-2.2zM374.30 359.30h2.2v2.2h-2.2zM379.30 354.30h2.2v2.2h-2.2zM379.30 365.30h2.2v2.2h-2.2zM358.30 370.30h2.2v2.2h-2.2zM379.30 377.30h2.2v2.2h-2.2zM286.30 390.30h2.2v2.2h-2.2zM307.30 388.30h2.2v2.2h-2.2zM342.30 393.30h2.2v2.2h-2.2zM274.30 404.30h2.2v2.2h-2.2zM276.30 413.30h2.2v2.2h-2.2zM284.30 417.30h2.2v2.2h-2.2zM251.30 411.30h2.2v2.2h-2.2zM309.30 411.30h2.2v2.2h-2.2zM350.30 410.30h2.2v2.2h-2.2zM303.30 435.30h2.2v2.2h-2.2zM301.30 436.30h2.2v2.2h-2.2zM307.30 447.30h2.2v2.2h-2.2zM289.30 452.30h2.2v2.2h-2.2zM371.30 429.30h2.2v2.2h-2.2zM389.30 428.30h2.2v2.2h-2.2zM389.30 444.30h2.2v2.2h-2.2zM394.30 453.30h2.2v2.2h-2.2zM361.30 453.30h2.2v2.2h-2.2zM411.30 427.30h2.2v2.2h-2.2zM417.30 425.30h2.2v2.2h-2.2zM420.30 429.30h2.2v2.2h-2.2zM419.30 431.30h2.2v2.2h-2.2zM473.30 358.30h2.2v2.2h-2.2zM473.30 371.30h2.2v2.2h-2.2zM443.30 378.30h2.2v2.2h-2.2zM563.30 364.30h2.2v2.2h-2.2zM578.30 358.30h2.2v2.2h-2.2zM598.30 389.30h2.2v2.2h-2.2zM550.30 398.30h2.2v2.2h-2.2zM568.30 406.30h2.2v2.2h-2.2zM565.30 415.30h2.2v2.2h-2.2zM598.30 419.30h2.2v2.2h-2.2zM563.30 429.30h2.2v2.2h-2.2zM555.30 439.30h2.2v2.2h-2.2zM591.30 438.30h2.2v2.2h-2.2zM468.30 404.30h2.2v2.2h-2.2zM519.30 411.30h2.2v2.2h-2.2zM435.30 418.30h2.2v2.2h-2.2zM466.30 426.30h2.2v2.2h-2.2zM448.30 435.30h2.2v2.2h-2.2zM455.30 447.30h2.2v2.2h-2.2zM476.30 445.30h2.2v2.2h-2.2zM488.30 444.30h2.2v2.2h-2.2zM501.30 443.30h2.2v2.2h-2.2zM443.30 457.30h2.2v2.2h-2.2zM542.30 457.30h2.2v2.2h-2.2zM667.30 376.30h2.2v2.2h-2.2zM649.30 383.30h2.2v2.2h-2.2zM644.30 390.30h2.2v2.2h-2.2zM654.30 391.30h2.2v2.2h-2.2zM690.30 399.30h2.2v2.2h-2.2zM708.30 398.30h2.2v2.2h-2.2zM724.30 382.30h2.2v2.2h-2.2zM644.30 433.30h2.2v2.2h-2.2zM654.30 429.30h2.2v2.2h-2.2zM675.30 427.30h2.2v2.2h-2.2zM749.10 426.40h2.2v2.2h-2.2zM752.20 426.40h2.2v2.2h-2.2zM756.20 427.10h2.2v2.2h-2.2zM749.10 431.20h2.2v2.2h-2.2zM773.50 426.60h2.2v2.2h-2.2zM774.50 427.10h2.2v2.2h-2.2zM767.40 434.30h2.2v2.2h-2.2zM800.30 424.30h2.2v2.2h-2.2zM800.30 430.30h2.2v2.2h-2.2zM855.30 358.30h2.2v2.2h-2.2zM858.30 359.30h2.2v2.2h-2.2zM871.30 355.30h2.2v2.2h-2.2zM863.30 367.30h2.2v2.2h-2.2zM867.30 365.30h2.2v2.2h-2.2zM840.30 369.30h2.2v2.2h-2.2zM894.30 368.30h2.2v2.2h-2.2zM832.30 382.30h2.2v2.2h-2.2zM805.30 387.30h2.2v2.2h-2.2zM932.30 386.30h2.2v2.2h-2.2zM891.30 395.30h2.2v2.2h-2.2zM837.30 399.30h2.2v2.2h-2.2zM840.30 410.30h2.2v2.2h-2.2zM863.30 409.30h2.2v2.2h-2.2zM863.30 413.30h2.2v2.2h-2.2zM837.30 430.30h2.2v2.2h-2.2zM861.30 427.30h2.2v2.2h-2.2zM863.30 428.30h2.2v2.2h-2.2zM917.20 426.30h2.2v2.2h-2.2zM920.50 427.40h2.2v2.2h-2.2zM923.50 426.50h2.2v2.2h-2.2zM926.50 427.30h2.2v2.2h-2.2zM929.70 426.70h2.2v2.2h-2.2zM860.90 450.30h2.2v2.2h-2.2zM868.30 447.30h2.2v2.2h-2.2zM871.30 445.30h2.2v2.2h-2.2zM904.30 455.30h2.2v2.2h-2.2zM935.30 451.30h2.2v2.2h-2.2zM108.30 464.30h2.2v2.2h-2.2zM113.30 481.30h2.2v2.2h-2.2zM133.30 498.30h2.2v2.2h-2.2zM141.30 508.30h2.2v2.2h-2.2zM156.30 513.30h2.2v2.2h-2.2zM169.30 467.30h2.2v2.2h-2.2zM164.30 475.30h2.2v2.2h-2.2zM177.30 471.30h2.2v2.2h-2.2zM185.30 489.30h2.2v2.2h-2.2zM215.30 478.30h2.2v2.2h-2.2zM236.30 464.30h2.2v2.2h-2.2zM243.30 468.30h2.2v2.2h-2.2zM261.30 465.30h2.2v2.2h-2.2zM264.30 463.30h2.2v2.2h-2.2zM281.30 465.30h2.2v2.2h-2.2zM254.30 476.30h2.2v2.2h-2.2zM261.30 487.30h2.2v2.2h-2.2zM271.30 495.30h2.2v2.2h-2.2zM281.30 479.30h2.2v2.2h-2.2zM289.30 488.00h2.2v2.2h-2.2zM289.50 487.40h2.2v2.2h-2.2zM302.30 483.30h2.2v2.2h-2.2zM304.30 481.30h2.2v2.2h-2.2zM312.30 486.30h2.2v2.2h-2.2zM325.30 501.30h2.2v2.2h-2.2zM356.30 488.30h2.2v2.2h-2.2zM358.30 491.30h2.2v2.2h-2.2zM361.30 504.30h2.2v2.2h-2.2zM384.30 469.30h2.2v2.2h-2.2zM379.30 507.30h2.2v2.2h-2.2zM407.30 498.30h2.2v2.2h-2.2zM409.30 500.30h2.2v2.2h-2.2zM432.30 493.30h2.2v2.2h-2.2zM463.30 463.30h2.2v2.2h-2.2zM466.30 474.30h2.2v2.2h-2.2zM448.30 479.30h2.2v2.2h-2.2zM476.30 483.30h2.2v2.2h-2.2zM476.30 495.30h2.2v2.2h-2.2zM437.30 499.30h2.2v2.2h-2.2zM524.30 465.30h2.2v2.2h-2.2zM537.30 469.30h2.2v2.2h-2.2zM583.30 472.30h2.2v2.2h-2.2zM601.30 492.30h2.2v2.2h-2.2zM598.30 501.30h2.2v2.2h-2.2zM598.30 505.30h2.2v2.2h-2.2zM575.30 507.30h2.2v2.2h-2.2zM637.30 497.30h2.2v2.2h-2.2zM695.30 461.30h2.2v2.2h-2.2zM731.30 490.30h2.2v2.2h-2.2zM724.30 510.30h2.2v2.2h-2.2zM764.30 470.30h2.2v2.2h-2.2zM767.30 469.30h2.2v2.2h-2.2zM764.30 476.30h2.2v2.2h-2.2zM787.30 469.30h2.2v2.2h-2.2zM855.30 460.30h2.2v2.2h-2.2zM817.30 466.30h2.2v2.2h-2.2zM840.30 484.30h2.2v2.2h-2.2zM840.30 493.30h2.2v2.2h-2.2zM853.30 511.30h2.2v2.2h-2.2zM917.30 464.30h2.2v2.2h-2.2zM909.30 482.30h2.2v2.2h-2.2zM897.30 508.30h2.2v2.2h-2.2z" fill="#1f77b4"/></g>
<defs><clipPath id="c"><rect x="57.47" y="32.40" width="922.88" height="505.00"/></clipPath></defs>
<rect x="57.47" y="32.40" width="922.88" height="505.00" fill="none" stroke="#000" stroke-width="1.11"/>
<g stroke="#000" stroke-width="1.11"><line x1="52.6" y1="522.40" x2="57.47" y2="522.40"/><line x1="52.6" y1="444.40" x2="57.47" y2="444.40"/><line x1="52.6" y1="366.40" x2="57.47" y2="366.40"/><line x1="52.6" y1="288.40" x2="57.47" y2="288.40"/><line x1="52.6" y1="210.40" x2="57.47" y2="210.40"/><line x1="52.6" y1="132.40" x2="57.47" y2="132.40"/><line x1="52.6" y1="54.40" x2="57.47" y2="54.40"/><line x1="211.40" y1="537.40" x2="211.40" y2="542.26"/><line x1="380.15" y1="537.40" x2="380.15" y2="542.26"/><line x1="548.90" y1="537.40" x2="548.90" y2="542.26"/><line x1="717.65" y1="537.40" x2="717.65" y2="542.26"/><line x1="886.40" y1="537.40" x2="886.40" y2="542.26"/></g>
<g><text x="46.9" y="527.55" text-anchor="end" textLength="7.90" lengthAdjust="spacingAndGlyphs">0</text><text x="46.9" y="449.55" text-anchor="end" textLength="16.20" lengthAdjust="spacingAndGlyphs">10</text><text x="46.9" y="371.55" text-anchor="end" textLength="16.20" lengthAdjust="spacingAndGlyphs">20</text><text x="46.9" y="293.55" text-anchor="end" textLength="16.20" lengthAdjust="spacingAndGlyphs">30</text><text x="46.9" y="215.55" text-anchor="end" textLength="16.20" lengthAdjust="spacingAndGlyphs">40</text><text x="46.9" y="137.55" text-anchor="end" textLength="16.20" lengthAdjust="spacingAndGlyphs">50</text><text x="46.9" y="59.55" text-anchor="end" textLength="16.20" lengthAdjust="spacingAndGlyphs">60</text><text x="211.40" y="557.3" text-anchor="middle" textLength="146.3" lengthAdjust="spacingAndGlyphs">2025-11-03 23:15:00</text><text x="380.15" y="557.3" text-anchor="middle" textLength="146.3" lengthAdjust="spacingAndGlyphs">2025-11-03 23:16:00</text><text x="548.90" y="557.3" text-anchor="middle" textLength="146.3" lengthAdjust="spacingAndGlyphs">2025-11-03 23:17:00</text><text x="717.65" y="557.3" text-anchor="middle" textLength="146.3" lengthAdjust="spacingAndGlyphs">2025-11-03 23:18:00</text><text x="886.40" y="557.3" text-anchor="middle" textLength="146.3" lengthAdjust="spacingAndGlyphs">2025-11-03 23:19:00</text><text x="518.9" y="576.8" text-anchor="middle" textLength="78.0" lengthAdjust="spacingAndGlyphs">Time (UTC)</text><text transform="translate(20.0 285.4) rotate(-90)" x="0" y="0" text-anchor="middle" textLength="132.6" lengthAdjust="spacingAndGlyphs">Bistatic Delay (km)</text><text x="518.9" y="23.9" text-anchor="middle" style="font-size:17px" textLength="163.3" lengthAdjust="spacingAndGlyphs">Detections in Delay</text></g>
</svg>
</body></html>
